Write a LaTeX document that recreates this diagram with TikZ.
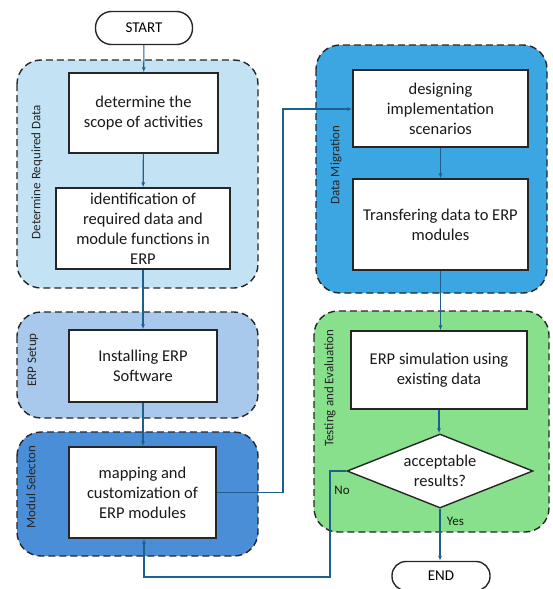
\documentclass[tikz,border=0pt]{standalone}
\usepackage{fontspec}
\setmainfont{Carlito}
\usetikzlibrary{shapes.geometric,arrows.meta}
\definecolor{gA}{HTML}{C3E3F4}
\definecolor{gB}{HTML}{A8C9EC}
\definecolor{gC}{HTML}{4A8ED8}
\definecolor{gD}{HTML}{3CA6E2}
\definecolor{gE}{HTML}{88DF8C}
\definecolor{ln}{HTML}{1F5F8B}
\tikzset{
  grp/.style={draw=black!85, line width=1.4pt, dash pattern=on 7pt off 4pt, rounded corners=24pt},
  box/.style={draw=black!85, fill=white, line width=1.4pt, align=center, font=\fontsize{16.5}{20}\selectfont, text=black!90, inner sep=0pt},
  term/.style={draw=black!85, fill=white, line width=1.4pt, rounded corners=16pt, font=\fontsize{15}{17}\selectfont, inner sep=0pt},
  glabel/.style={rotate=90, font=\fontsize{13}{15}\selectfont, text=black!85},
  conn/.style={draw=ln, line width=1.1pt, -{Latex[length=5pt,width=4pt]}},
  lbl/.style={font=\fontsize{13}{15}\selectfont, text=black!90}
}
\begin{document}
\begin{tikzpicture}[x=1pt,y=-1pt]
\useasboundingbox (0,0) rectangle (553,589);
% groups
\draw[grp, fill=gA] (17,60) rectangle (258,288);
\draw[grp, fill=gB] (17,312) rectangle (258,418);
\draw[grp, fill=gC] (17,432) rectangle (258,556);
\draw[grp, fill=gD] (316,45) rectangle (547,293);
\draw[grp, fill=gE] (314,311) rectangle (549,532);
\node[glabel] (lA) at (37,172) {Determine Required Data};
\node[glabel] (lB) at (33,360) {ERP Setup};
\node[glabel] (lC) at (31,487) {Modul Selecton};
\node[glabel] (lD) at (336,165) {Data Migration};
\node[glabel] (lE) at (330,388) {Testing and Evaluation};
% nodes
\node[term, minimum width=97pt, minimum height=33pt] (start) at (144,28) {START};
\node[box, minimum width=149pt, minimum height=80pt] (b1) at (143.5,113) {determine the\\scope of activities};
\node[box, minimum width=174pt, minimum height=81pt] (b2) at (143,228.5) {identification of\\required data and\\module functions in\\ERP};
\node[box, minimum width=148pt, minimum height=72pt] (b3) at (143,366) {Installing ERP\\Software};
\node[box, minimum width=147pt, minimum height=91pt] (b4) at (142.5,492.5) {mapping and\\customization of\\ERP modules};
\node[box, minimum width=175pt, minimum height=77pt] (b5) at (440.5,108.5) {designing\\implementation\\scenarios};
\node[box, minimum width=175pt, minimum height=91pt] (b6) at (440.5,224.5) {Transfering data to ERP\\modules};
\node[box, minimum width=176pt, minimum height=78pt] (b7) at (439,370) {ERP simulation using\\existing data};
\node[diamond, draw=black!85, fill=white, line width=1.4pt, minimum width=186pt, minimum height=74pt, inner sep=0pt, aspect=2.5, align=center, font=\fontsize{16.5}{20}\selectfont, text=black!90] (d) at (440,471) {acceptable\\results?};
\node[term, minimum width=98pt, minimum height=29pt, rounded corners=14pt] (end) at (441,576) {END};
% connectors
\draw[conn] (start) -- (b1);
\draw[conn] (b1) -- (b2);
\draw[conn] (b2) -- (b2.south |- b3.north);
\draw[conn] (b3) -- (b3.south |- b4.north);
\coordinate (r1) at (283,492.5);
\coordinate (r2) at (283,109);
\draw[conn] (b4.east) -- (r1) -- (r2) -- (r2 -| b5.west);
\draw[conn] (b5.south) -- (b5.south |- b6.north);
\draw[conn] (b6.south) -- (b6.south |- b7.north);
\draw[conn] (b7.south) -- (b7.south |- d.north);
\draw[conn] (d.south) -- node[lbl, pos=0.25, right=3pt] {Yes} (d.south |- end.north);
\coordinate (n1) at (330,471);
\coordinate (n2) at (330,577);
\coordinate (n3) at (144,577);
\draw[conn] (d.west) -- (n1) -- (n2) -- (n3) -- (n3 |- b4.south);
\node[lbl] (no) at (342,490) {No};
\end{tikzpicture}
\end{document}
